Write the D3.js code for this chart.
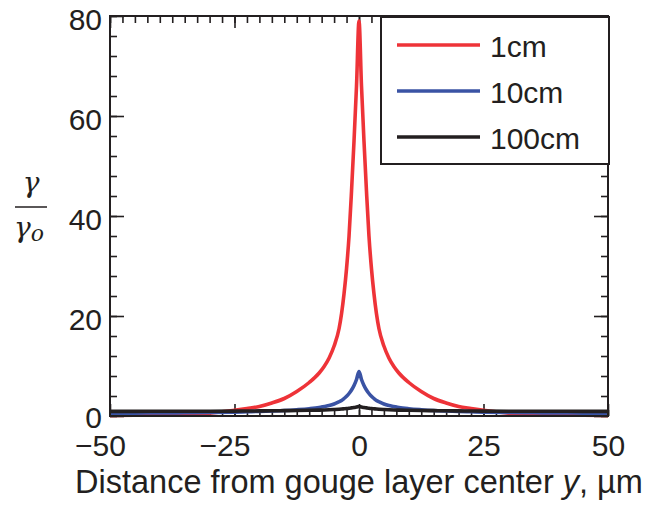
<!DOCTYPE html>
<html>
<head>
<meta charset="utf-8">
<script src="https://cdn.jsdelivr.net/npm/d3@7"></script>
<style>
  html, body { margin: 0; padding: 0; background: #fff; }
  svg { display: block; font-family: "Liberation Sans", Arial, Helvetica, sans-serif; }
</style>
</head>
<body>
<svg id="chart" width="651" height="506"></svg>
<script>
// Distance from the gouge layer center (µm)
const positions = [-50, -45, -40, -35, -30, -25, -22.5, -20, -17.5, -15, -12.5, -10, -8, -7, -6, -5, -4, -3.5, -3, -2.5, -2, -1.5, -1, -0.5, 0,
                   0.5, 1, 1.5, 2, 2.5, 3, 3.5, 4, 5, 6, 7, 8, 10, 12.5, 15, 17.5, 20, 22.5, 25, 30, 35, 40, 45, 50];

// Normalised strain rate γ/γo for each layer thickness
const series1cm = [0.1, 0.15, 0.22, 0.35, 0.55, 1.15, 1.5, 1.9, 2.6, 3.5, 4.9, 6.7, 8.6, 9.9, 11.6, 14, 17.5, 20.5, 24.5, 29.5, 36, 45, 55, 66, 79,
                   66, 55, 45, 36, 29.5, 24.5, 20.5, 17.5, 14, 11.6, 9.9, 8.6, 6.7, 4.9, 3.5, 2.6, 1.9, 1.5, 1.15, 0.55, 0.35, 0.22, 0.15, 0.1];
const series10cm = [0.55, 0.58, 0.6, 0.65, 0.7, 0.78, 0.85, 0.92, 1.0, 1.1, 1.25, 1.45, 1.7, 1.9, 2.1, 2.4, 2.85, 3.1, 3.5, 3.95, 4.5, 5.2, 6.1, 7.3, 8.9,
                    7.3, 6.1, 5.2, 4.5, 3.95, 3.5, 3.1, 2.85, 2.4, 2.1, 1.9, 1.7, 1.45, 1.25, 1.1, 1.0, 0.92, 0.85, 0.78, 0.7, 0.65, 0.6, 0.58, 0.55];
const series100cm = [0.93, 0.93, 0.94, 0.95, 0.96, 0.98, 1.0, 1.02, 1.04, 1.07, 1.1, 1.14, 1.18, 1.21, 1.25, 1.3, 1.36, 1.4, 1.45, 1.5, 1.56, 1.63, 1.7, 1.78, 1.9,
                     1.78, 1.7, 1.63, 1.56, 1.5, 1.45, 1.4, 1.36, 1.3, 1.25, 1.21, 1.18, 1.14, 1.1, 1.07, 1.04, 1.02, 1.0, 0.98, 0.96, 0.95, 0.94, 0.93, 0.93];

const seriesNames = ["1cm", "10cm", "100cm"];
const seriesColors = ["#ee3338", "#3a53a4", "#231f20"];

const xTicks = [-50, -25, 0, 25, 50];
const xMinorTicks = d3.range(-50, 50.01, 2.5);
const yTicks = [0, 20, 40, 60, 80];
const yMinorTicks = d3.range(0, 80.01, 4);

(function draw() {
  const svg = d3.select("#chart");
  const plotLeft = 110, plotRight = 608, plotTop = 16, plotBottom = 416;
  const ink = "#231f20";

  const x = d3.scaleLinear().domain([-50, 50]).range([plotLeft, plotRight]);
  const y = d3.scaleLinear().domain([0, 80]).range([plotBottom, plotTop]);

  function styleAxis(g) {
    g.select(".domain").remove();
    g.selectAll(".tick line").attr("stroke", ink).attr("stroke-width", 1.6);
  }

  // Minor ticks on all four sides, pointing inward
  svg.append("g").attr("transform", `translate(0,${plotBottom})`)
    .call(d3.axisBottom(x).tickValues(xMinorTicks).tickSize(-6).tickFormat(""))
    .call(styleAxis);
  svg.append("g").attr("transform", `translate(0,${plotTop})`)
    .call(d3.axisTop(x).tickValues(xMinorTicks).tickSize(-7).tickFormat(""))
    .call(styleAxis);
  svg.append("g").attr("transform", `translate(${plotLeft},0)`)
    .call(d3.axisLeft(y).tickValues(yMinorTicks).tickSize(-7).tickFormat(""))
    .call(styleAxis);
  svg.append("g").attr("transform", `translate(${plotRight},0)`)
    .call(d3.axisRight(y).tickValues(yMinorTicks).tickSize(-7).tickFormat(""))
    .call(styleAxis);

  // Major ticks with labels
  const fmt = d => d3.format("d")(d).replace("-", "\u2212");
  const xAxis = svg.append("g").attr("transform", `translate(0,${plotBottom})`)
    .call(d3.axisBottom(x).tickValues(xTicks).tickSize(-12).tickPadding(19).tickFormat(fmt))
    .call(styleAxis);
  xAxis.selectAll("text")
    .attr("font-size", 30).attr("fill", ink)
    .attr("font-family", '"Liberation Sans", Arial, sans-serif')
    .attr("dx", d => d < 0 ? -10 : 0);
  svg.append("g").attr("transform", `translate(0,${plotTop})`)
    .call(d3.axisTop(x).tickValues(xTicks).tickSize(-12).tickFormat(""))
    .call(styleAxis);

  const yAxis = svg.append("g").attr("transform", `translate(${plotLeft},0)`)
    .call(d3.axisLeft(y).tickValues(yTicks).tickSize(-14).tickPadding(8).tickFormat(fmt))
    .call(styleAxis);
  yAxis.selectAll("text")
    .attr("font-size", 30).attr("fill", ink)
    .attr("font-family", '"Liberation Sans", Arial, sans-serif')
    .attr("dy", d => d === 0 ? "0.38em" : "0.45em");
  svg.append("g").attr("transform", `translate(${plotRight},0)`)
    .call(d3.axisRight(y).tickValues(yTicks).tickSize(-14).tickFormat(""))
    .call(styleAxis);

  // Curves
  const line = d3.line()
    .x(d => x(d[0]))
    .y(d => y(d[1]))
    .curve(d3.curveMonotoneX);

  const allSeries = [series1cm, series10cm, series100cm];
  allSeries.forEach((vals, i) => {
    svg.append("path")
      .datum(positions.map((p, j) => [p, vals[j]]))
      .attr("fill", "none")
      .attr("stroke", seriesColors[i])
      .attr("stroke-width", 3.6)
      .attr("stroke-linejoin", "round")
      .attr("d", line);
  });

  // Plot frame
  svg.append("rect")
    .attr("x", plotLeft).attr("y", plotTop)
    .attr("width", plotRight - plotLeft).attr("height", plotBottom - plotTop)
    .attr("fill", "none").attr("stroke", ink).attr("stroke-width", 2);

  // Legend
  const legend = svg.append("g");
  legend.append("rect")
    .attr("x", 381).attr("y", 17).attr("width", 228).attr("height", 147)
    .attr("fill", "#fff").attr("stroke", ink).attr("stroke-width", 2);
  seriesNames.forEach((name, i) => {
    const ly = 45 + i * 46;
    legend.append("line")
      .attr("x1", 397).attr("x2", 480).attr("y1", ly).attr("y2", ly)
      .attr("stroke", seriesColors[i]).attr("stroke-width", 3.6);
    legend.append("text")
      .attr("x", 490).attr("y", ly + 12)
      .attr("font-size", 30).attr("fill", ink)
      .text(name);
  });

  // X axis title
  const title = svg.append("text")
    .attr("x", (plotLeft + plotRight) / 2).attr("y", 493)
    .attr("text-anchor", "middle")
    .attr("font-size", 28).attr("fill", ink);
  title.append("tspan").text("Distance from gouge layer center ");
  title.append("tspan").attr("font-style", "italic").text("y");
  title.append("tspan").text(", \u00b5m");
  const tw = title.node().getComputedTextLength();
  if (tw > 0) title.attr("font-size", 28 * 568 / tw);

  // Y axis label: γ over γo
  const serif = '"DejaVu Serif", "Liberation Serif", serif';
  svg.append("text")
    .attr("x", 31).attr("y", 192)
    .attr("text-anchor", "middle")
    .attr("font-family", serif).attr("font-style", "italic")
    .attr("font-size", 28).attr("fill", ink)
    .text("\u03b3");
  svg.append("line")
    .attr("x1", 15).attr("x2", 47).attr("y1", 207).attr("y2", 207)
    .attr("stroke", ink).attr("stroke-width", 1.5);
  const den = svg.append("text")
    .attr("x", 14).attr("y", 237)
    .attr("font-family", serif).attr("font-style", "italic")
    .attr("font-size", 28).attr("fill", ink);
  den.append("tspan").text("\u03b3");
  den.append("tspan").attr("font-size", 22).attr("dy", 4).text("o");
})();
</script>
</body>
</html>
